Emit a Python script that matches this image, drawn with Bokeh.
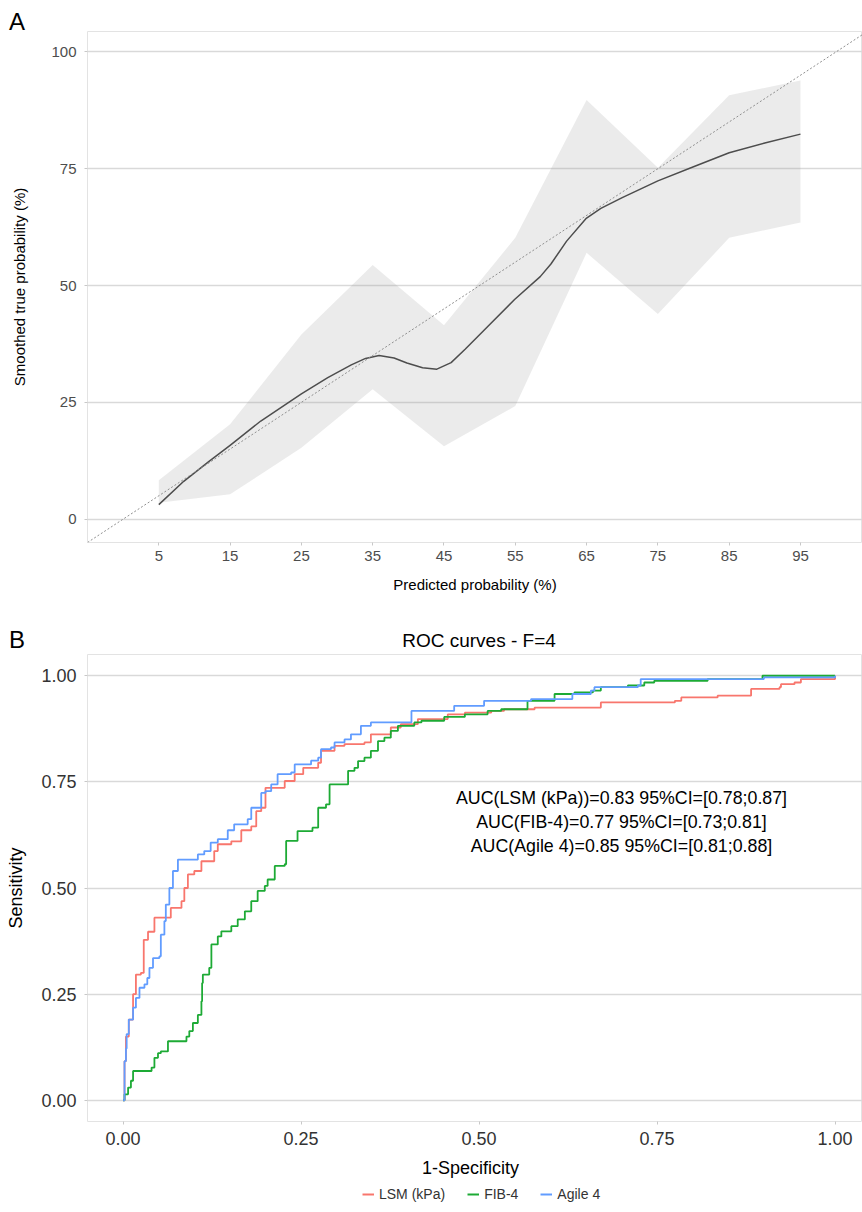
from bokeh.plotting import figure
from bokeh.models import Range1d, FixedTicker, Label, Slope, Legend, LegendItem, NumeralTickFormatter, Div
from bokeh.core.properties import value
from bokeh.layouts import column
from bokeh.embed import file_html
from bokeh.resources import INLINE

FONT = "Liberation Sans"

# ---------------- Panel A data (calibration) ----------------
pred_ticks = [5, 15, 25, 35, 45, 55, 65, 75, 85, 95]
ci_upper = [8.3, 20.3, 39.5, 54.4, 41.5, 60.2, 89.7, 75.2, 90.7, 93.9]
ci_lower = [3.5, 5.3, 15.3, 27.8, 15.6, 24.2, 57.0, 43.9, 60.2, 63.5]
smooth_x = [5, 8.5, 12, 15, 19.3, 25, 28.7, 32, 34, 35.9, 38, 39.8, 42, 44, 46, 48, 51, 54.9, 58.5, 60,
            62.2, 64.9, 67, 70, 75, 80, 85, 90, 95]
smooth_y = [3.1, 8.1, 12.3, 15.8, 21.0, 26.8, 30.3, 33.0, 34.4, 35.0, 34.5, 33.4, 32.4, 32.1, 33.5, 36.4, 41.0,
            47.0, 51.9, 54.6, 59.5, 64.3, 66.5, 68.8, 72.4, 75.4, 78.4, 80.5, 82.4]
true_ticks = [0, 25, 50, 75, 100]

# ---------------- Panel B data (ROC) ----------------
lsm_fpr = [0.0, 0.002, 0.004, 0.008, 0.014, 0.018, 0.025, 0.029, 0.035, 0.044, 0.058, 0.067, 0.082, 0.086,
           0.091, 0.100, 0.110, 0.128, 0.133, 0.152, 0.166, 0.180, 0.187, 0.194, 0.200, 0.227, 0.241, 0.253,
           0.274, 0.278, 0.297, 0.311, 0.339, 0.348, 0.376, 0.390, 0.414, 0.456, 0.480, 0.517, 0.535, 0.578,
           0.662, 0.671, 0.775, 0.784, 0.835, 0.882, 0.922, 0.924, 0.943, 0.952, 0.994, 1.0]
lsm_tpr = [0.0, 0.092, 0.150, 0.190, 0.250, 0.296, 0.300, 0.378, 0.397, 0.430, 0.430, 0.453, 0.469, 0.500,
           0.532, 0.540, 0.563, 0.587, 0.603, 0.610, 0.636, 0.645, 0.681, 0.689, 0.736, 0.752, 0.768, 0.783,
           0.795, 0.823, 0.835, 0.839, 0.843, 0.862, 0.878, 0.886, 0.898, 0.909, 0.913, 0.917, 0.921, 0.925,
           0.925, 0.937, 0.941, 0.949, 0.953, 0.969, 0.973, 0.980, 0.984, 0.992, 0.992, 1.0]

fib4_fpr = [0.0, 0.002, 0.007, 0.011, 0.014, 0.035, 0.040, 0.044, 0.049, 0.053, 0.063, 0.086, 0.089, 0.093,
            0.098, 0.105, 0.110, 0.111, 0.112, 0.121, 0.124, 0.133, 0.138, 0.152, 0.161, 0.171, 0.180, 0.189,
            0.199, 0.203, 0.213, 0.227, 0.229, 0.245, 0.266, 0.274, 0.285, 0.290, 0.311, 0.316, 0.325, 0.330,
            0.339, 0.348, 0.358, 0.367, 0.376, 0.386, 0.409, 0.419, 0.451, 0.480, 0.512, 0.531, 0.568, 0.606,
            0.634, 0.660, 0.671, 0.709, 0.732, 0.746, 0.821, 0.898, 1.0]
fib4_tpr = [0.0, 0.014, 0.030, 0.046, 0.069, 0.069, 0.077, 0.100, 0.111, 0.115, 0.139, 0.139, 0.150, 0.163,
            0.182, 0.201, 0.233, 0.276, 0.296, 0.312, 0.367, 0.386, 0.398, 0.410, 0.426, 0.445, 0.469, 0.493,
            0.505, 0.520, 0.552, 0.556, 0.611, 0.634, 0.642, 0.689, 0.697, 0.744, 0.744, 0.776, 0.783, 0.799,
            0.807, 0.823, 0.846, 0.854, 0.870, 0.882, 0.890, 0.894, 0.903, 0.909, 0.917, 0.921, 0.941, 0.957,
            0.961, 0.965, 0.973, 0.977, 0.984, 0.988, 0.992, 1.0, 1.0]

agile_fpr = [0.0, 0.002, 0.004, 0.005, 0.008, 0.014, 0.018, 0.023, 0.030, 0.034, 0.037, 0.042, 0.051, 0.053,
             0.058, 0.060, 0.065, 0.070, 0.077, 0.096, 0.105, 0.114, 0.123, 0.133, 0.147, 0.156, 0.175, 0.180,
             0.194, 0.200, 0.208, 0.217, 0.236, 0.241, 0.264, 0.274, 0.278, 0.292, 0.297, 0.311, 0.320, 0.334,
             0.348, 0.395, 0.405, 0.461, 0.465, 0.503, 0.507, 0.568, 0.573, 0.629, 0.631, 0.657, 0.662, 0.723,
             0.727, 0.896, 0.900, 0.994, 1.0]
agile_tpr = [0.0, 0.092, 0.122, 0.156, 0.190, 0.218, 0.241, 0.265, 0.273, 0.288, 0.312, 0.335, 0.339, 0.390,
             0.422, 0.461, 0.500, 0.540, 0.567, 0.567, 0.579, 0.587, 0.607, 0.615, 0.636, 0.650, 0.662, 0.689,
             0.724, 0.728, 0.744, 0.768, 0.772, 0.791, 0.800, 0.807, 0.827, 0.831, 0.843, 0.850, 0.862, 0.882,
             0.890, 0.890, 0.917, 0.917, 0.929, 0.929, 0.941, 0.941, 0.945, 0.945, 0.957, 0.965, 0.973, 0.977,
             0.992, 0.992, 0.996, 0.996, 1.0]

roc_ticks = [0.0, 0.25, 0.5, 0.75, 1.0]
series_names = ["LSM (kPa)", "FIB-4", "Agile 4"]
series_colors = ["#F8766D", "#1DAA35", "#619CFF"]
series_data = [(lsm_fpr, lsm_tpr), (fib4_fpr, fib4_tpr), (agile_fpr, agile_tpr)]
auc_texts = ["AUC(LSM (kPa))=0.83 95%CI=[0.78;0.87]",
             "AUC(FIB-4)=0.77 95%CI=[0.73;0.81]",
             "AUC(Agile 4)=0.85 95%CI=[0.81;0.88]"]
auc_x = 0.7
auc_y = [0.712, 0.656, 0.600]

W = 862
CSS_FONT = "font-family:'Liberation Sans',Arial,sans-serif;color:#000000;"


def style(p, tick_size, tick_color, title_size):
    p.background_fill_color = "white"
    p.border_fill_color = "white"
    p.outline_line_color = "#e3e3e3"
    p.outline_line_width = 1
    p.xgrid.grid_line_color = None
    p.ygrid.grid_line_color = "#d9d9d9"
    p.ygrid.grid_line_width = 1.5
    for ax in p.axis:
        ax.axis_line_color = None
        ax.major_tick_line_color = "#c8c8c8"
        ax.major_tick_in = 0
        ax.major_tick_out = 3
        ax.minor_tick_line_color = None
        ax.major_label_text_font = FONT
        ax.major_label_text_font_size = tick_size
        ax.major_label_text_color = tick_color
        ax.axis_label_text_font = FONT
        ax.axis_label_text_font_size = title_size
        ax.axis_label_text_font_style = "normal"
        ax.axis_label_text_color = "#000000"


# ---------------- strip with panel letter A ----------------
div_a = Div(width=W, height=31, margin=(0, 0, 0, 0), text=(
    '<div style="position:relative;width:862px;height:31px;">'
    '<span style="position:absolute;left:9px;top:10px;font-size:24px;line-height:24px;' + CSS_FONT + '">A</span>'
    '</div>'))

# ---------------- Panel A ----------------
pa = figure(frame_width=775, frame_height=511, min_border_left=87, min_border_right=0,
            min_border_top=0, min_border_bottom=73,
            x_range=Range1d(-5, 103.7), y_range=Range1d(-5, 104.36),
            output_backend="svg", toolbar_location=None)
style(pa, "15px", "#4d4d4d", "15px")
pa.xaxis.ticker = FixedTicker(ticks=pred_ticks)
pa.yaxis.ticker = FixedTicker(ticks=true_ticks)
pa.ygrid.ticker = FixedTicker(ticks=true_ticks)
pa.xaxis.axis_label = "Predicted probability (%)"
pa.yaxis.axis_label = "Smoothed true probability (%)"
pa.xaxis.major_label_standoff = 5
pa.xaxis.axis_label_standoff = 12
pa.yaxis.major_label_standoff = 8
pa.yaxis.axis_label_standoff = 20

pa.varea(x=pred_ticks, y1=ci_lower, y2=ci_upper, fill_color="#999999", fill_alpha=0.2)
pa.add_layout(Slope(gradient=1, y_intercept=0, line_color="#8f8f8f", line_width=1, line_dash="2 2"))
pa.line(smooth_x, smooth_y, line_color="#4d4d4d", line_width=1.5, line_join="round")

# ---------------- strip with letter B and ROC title ----------------
div_b = Div(width=W, height=39, margin=(0, 0, 0, 0), text=(
    '<div style="position:relative;width:862px;height:39px;">'
    '<span style="position:absolute;left:9px;top:13px;font-size:24px;line-height:24px;' + CSS_FONT + '">B</span>'
    '<div style="position:absolute;left:0px;top:16px;width:862px;box-sizing:border-box;padding-left:96px;'
    'text-align:center;font-size:19px;line-height:19px;' + CSS_FONT + '">ROC curves - F=4</div>'
    '</div>'))

# ---------------- Panel B ----------------
pb = figure(frame_width=775, frame_height=467, min_border_left=87, min_border_right=0,
            min_border_top=0, min_border_bottom=34,
            x_range=Range1d(-0.05, 1.0385), y_range=Range1d(-0.05, 1.05),
            output_backend="svg", toolbar_location=None)
style(pb, "18px", "#333333", "18px")
pb.xaxis.ticker = FixedTicker(ticks=roc_ticks)
pb.yaxis.ticker = FixedTicker(ticks=roc_ticks)
pb.ygrid.ticker = FixedTicker(ticks=roc_ticks)
pb.xaxis.formatter = NumeralTickFormatter(format="0.00")
pb.yaxis.formatter = NumeralTickFormatter(format="0.00")
pb.yaxis.axis_label = "Sensitivity"
pb.xaxis.major_label_standoff = 7
pb.yaxis.major_label_standoff = 8
pb.yaxis.axis_label_standoff = 12

for (fx, ty), col in zip(series_data, series_colors):
    pb.step(fx, ty, mode="after", line_color=col, line_width=1.8)

for txt, yy in zip(auc_texts, auc_y):
    pb.add_layout(Label(x=auc_x, y=yy, text=txt, text_font=FONT, text_font_size="17.8px",
                        text_color="#000000", text_align="center", text_baseline="middle"))

# ---------------- bottom strip: x title and legend ----------------
sc = figure(width=W, height=57, min_border=0, x_axis_type=None, y_axis_type=None,
            x_range=Range1d(87, W), y_range=Range1d(57, 0),
            output_backend="svg", toolbar_location=None)
sc.outline_line_color = None
sc.background_fill_color = "white"
sc.border_fill_color = "white"
sc.text(x=[470], y=[12], text=["1-Specificity"], text_font=value(FONT), text_font_size="18px",
        text_color="#000000", text_baseline="middle", text_align="center")
items = []
for n, c, (fx, ty) in zip(series_names, series_colors, series_data):
    # legend key renderer; its single point lies outside this strip's visible range
    r = sc.line(x=fx[:1], y=ty[:1], line_color=c, line_width=2)
    items.append(LegendItem(label=n, renderers=[r]))
legend = Legend(items=items, orientation="horizontal", location=(275, 10),
                label_text_font=FONT, label_text_font_size="14px", label_text_color="#333333",
                glyph_width=12, glyph_height=12, label_standoff=5, spacing=22,
                padding=0, margin=0, border_line_color=None, background_fill_alpha=0)
sc.add_layout(legend)

layout = column(div_a, pa, div_b, pb, sc, spacing=0)
open("out.html", "w").write(file_html(layout, INLINE))
